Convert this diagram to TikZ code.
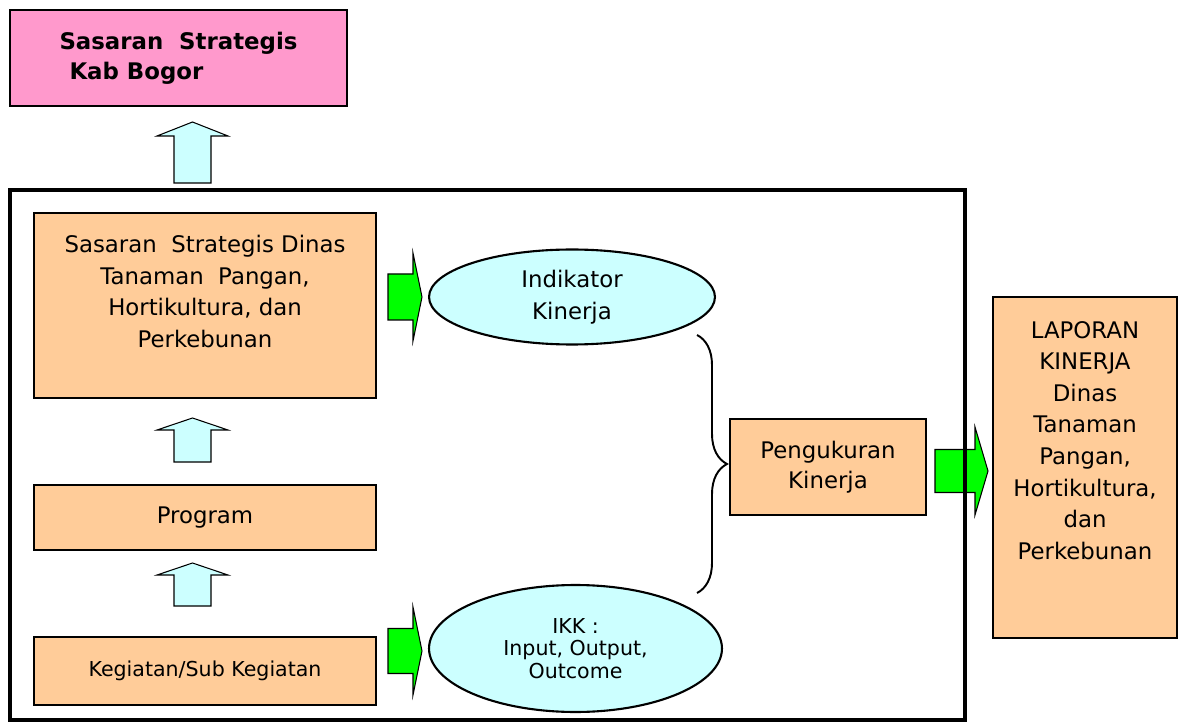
\documentclass[tikz,border=0pt]{standalone}
\usepackage{fontspec}
\setmainfont{DejaVu Sans}
\usepackage{xcolor}
\definecolor{rosy}{HTML}{FF99CC}
\definecolor{peach}{HTML}{FFCC99}
\definecolor{icecyan}{HTML}{CCFFFF}
\definecolor{brightgreen}{HTML}{00FF00}
\usetikzlibrary{shapes.geometric,decorations.pathreplacing,positioning}
\tikzset{
    box/.style = {draw, line width=1.6pt, fill=peach, align=center, inner sep=0pt,
                  font=\fontsize{13pt}{18pt}\selectfont},
    smallbox/.style = {box, font=\fontsize{11.7pt}{13pt}\selectfont},
    oval/.style = {ellipse, draw, line width=1.2pt, fill=icecyan, align=center, inner sep=0pt,
                   font=\fontsize{13pt}{18pt}\selectfont},
    frame/.style = {draw, line width=2.3pt},
    upfill/.style = {draw, line width=0.6pt, fill=icecyan},
    grfill/.style = {draw, line width=0.6pt, fill=brightgreen},
    bracket/.style = {draw, line width=1.1pt, decorate, decoration={brace, amplitude=0.6cm}},
    pics/uparr/.style 2 args = {code={
        \draw[upfill] (-18.5,0) -- (-18.5,{-#1+#2}) -- (-35.5,{-#1+#2}) -- (0,-#1)
            -- (35.5,{-#1+#2}) -- (18.5,{-#1+#2}) -- (18.5,0) -- cycle;}},
    pics/garr/.style n args = {4}{code={
        \draw[grfill] (0,-#3) -- (#1,-#3) -- (#1,-#4) -- (#2,0)
            -- (#1,#4) -- (#1,#3) -- (0,#3) -- cycle;}}
}

\begin{document}
\begin{tikzpicture}[x=0.02cm, y=-0.02cm]
    \useasboundingbox (0,0) rectangle (1179,722);

    % top target
    \node[box, fill=rosy, align=left, minimum width=6.74cm, minimum height=1.92cm,
          font=\bfseries\fontsize{13pt}{17.5pt}\selectfont] (kab) at (178.5,58)
          {Sasaran\ \ Strategis\\\hspace*{0.2cm}Kab Bogor\\[-15pt]\mbox{}};
    \pic at (192.5,183) {uparr={61}{14}};

    % left column
    \node[box, minimum width=6.84cm, minimum height=3.7cm] (dinas) at (205,305.5)
          {Sasaran\ \ Strategis Dinas\\Tanaman\ \ Pangan,\\Hortikultura,\ dan\\Perkebunan\\[-2pt]\mbox{}};
    \node[box, minimum width=6.84cm, minimum height=1.3cm] (prog) at (205,517.5) {Program};
    \node[smallbox, minimum width=6.84cm, minimum height=1.36cm] (keg) at (205,671) {Kegiatan/Sub Kegiatan};
    \pic at (192.5,462) {uparr={44}{12}};
    \pic at (192.5,606) {uparr={43}{12}};

    % indicators
    \pic at (388,297) {garr={25}{34}{23}{44}};
    \pic at (388,651) {garr={25}{34}{22.5}{44}};
    \node[oval, minimum width=5.72cm, minimum height=1.9cm] (ik) at (572,297) {Indikator\\Kinerja};
    \node[oval, minimum width=5.86cm, minimum height=2.54cm,
          font=\fontsize{11.7pt}{13pt}\selectfont] (ikk) at (575.5,648.5) {IKK :\\Input, Output,\\Outcome};

    % measurement
    \coordinate (bt) at (697,335);
    \coordinate (bb) at (697,593);
    \path[bracket] (bt) -- (bb);
    \node[box, minimum width=3.92cm, minimum height=1.92cm,
          font=\fontsize{13pt}{17pt}\selectfont] (ukur) at (828,467) {Pengukuran\\Kinerja};

    % report
    \pic at (935,471) {garr={40}{53}{21.5}{44}};
    \draw[frame] (10,190) rectangle (965,720);
    \node[box, minimum width=3.68cm, minimum height=6.82cm] (lap) at (1085,467.5)
          {LAPORAN\\KINERJA\\Dinas\\Tanaman\\Pangan,\\Hortikultura,\\dan\\Perkebunan\\[13pt]\mbox{}};
\end{tikzpicture}
\end{document}
